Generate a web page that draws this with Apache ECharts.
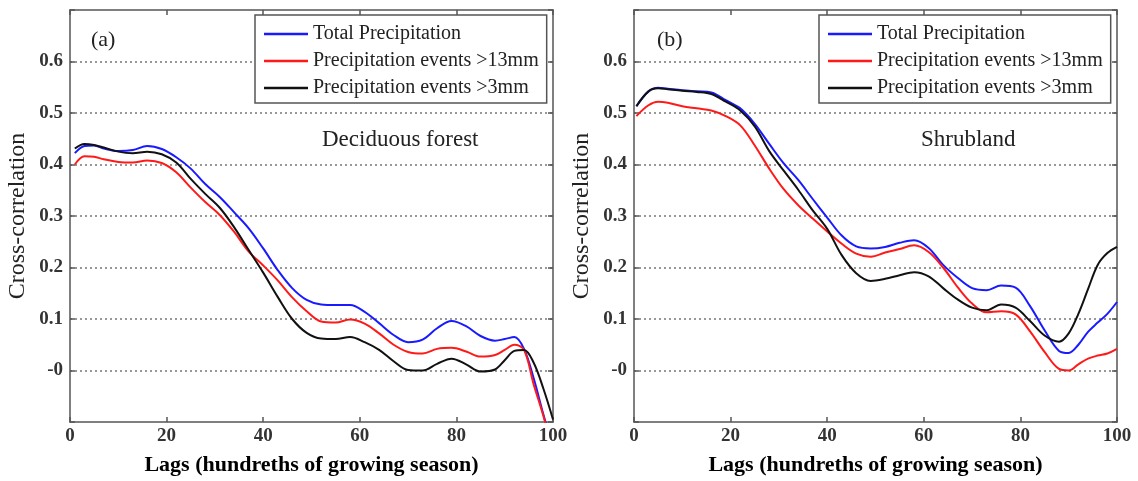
<!DOCTYPE html>
<html>
<head>
<meta charset="utf-8">
<script src="https://cdn.jsdelivr.net/npm/echarts@6/dist/echarts.min.js"></script>
<style>html,body{margin:0;padding:0;background:#fff;}#c{width:1138px;height:481px;}</style>
</head>
<body>
<div id="c"></div>
<script>
// ---- Data ----
const seriesNames = ['Total Precipitation', 'Precipitation events >13mm', 'Precipitation events >3mm'];
const xTicks = [0, 20, 40, 60, 80, 100];

// Panel (a) Deciduous forest
const lagsA = [1,3,5,7,10,13,16,19,22,25,28,31,34,37,40,43,46,49,52,55,58,61,64,67,70,73,76,79,82,85,88,90,92,94,96,98,100];
const totalA = [0.422,0.436,0.437,0.431,0.426,0.428,0.436,0.430,0.414,0.392,0.362,0.337,0.307,0.276,0.237,0.195,0.160,0.137,0.128,0.127,0.127,0.114,0.092,0.069,0.055,0.060,0.082,0.096,0.086,0.067,0.058,0.061,0.065,0.042,-0.015,-0.085,-0.150];
const p13A  = [0.400,0.416,0.415,0.410,0.405,0.404,0.408,0.403,0.385,0.355,0.327,0.302,0.269,0.231,0.204,0.175,0.142,0.115,0.095,0.093,0.099,0.091,0.072,0.050,0.036,0.033,0.042,0.044,0.037,0.027,0.030,0.040,0.050,0.040,-0.027,-0.088,-0.160];
const p3A   = [0.431,0.440,0.438,0.433,0.425,0.422,0.425,0.420,0.404,0.372,0.343,0.316,0.278,0.234,0.190,0.143,0.100,0.073,0.062,0.061,0.065,0.055,0.040,0.018,0.001,0.000,0.013,0.023,0.012,-0.002,0.002,0.020,0.038,0.040,0.015,-0.035,-0.095];

// Panel (b) Shrubland
const lagsB = [0.5,3,5,7,10,13,16,19,22,25,28,31,34,37,40,43,46,49,52,55,58,61,64,67,70,73,76,79,82,85,88,90,92,94,96,98,100];
const totalB = [0.513,0.542,0.549,0.547,0.544,0.542,0.540,0.525,0.509,0.479,0.440,0.402,0.370,0.333,0.297,0.262,0.241,0.237,0.240,0.248,0.253,0.238,0.205,0.180,0.160,0.156,0.165,0.161,0.125,0.078,0.038,0.034,0.050,0.075,0.093,0.110,0.133];
const p13B  = [0.494,0.515,0.522,0.520,0.513,0.509,0.505,0.494,0.476,0.437,0.392,0.352,0.321,0.295,0.270,0.246,0.227,0.221,0.229,0.236,0.243,0.230,0.200,0.162,0.130,0.113,0.115,0.109,0.076,0.036,0.003,0.000,0.012,0.023,0.029,0.033,0.042];
const p3B   = [0.513,0.542,0.548,0.546,0.543,0.541,0.537,0.522,0.505,0.474,0.426,0.388,0.351,0.311,0.275,0.224,0.189,0.174,0.178,0.185,0.191,0.183,0.160,0.138,0.122,0.117,0.128,0.122,0.096,0.068,0.056,0.072,0.110,0.158,0.205,0.228,0.240];

// ---- Chart ----
const FONT = '"Liberation Serif", "DejaVu Serif", serif';
const colors = ['#1a1aff', '#ff1a1a', '#111111'];
const chart = echarts.init(document.getElementById('c'));

function pairs(x, y) { return x.map((v, i) => [v, y[i]]); }

const grids = [
  { left: 70, right: 585, top: 10, height: 415 },
  { left: 634, right: 21, top: 10, height: 415 }
];

const axisLineStyle = { color: '#555', width: 1.5 };

function mainX(g) {
  return {
    type: 'value', gridIndex: g, min: 0, max: 100, interval: 20,
    name: 'Lags (hundreths of growing season)', nameLocation: 'middle', nameGap: 32,
    nameTextStyle: { fontFamily: FONT, fontSize: 22, fontWeight: 'bold', color: '#000' },
    axisLine: { show: true, onZero: false, lineStyle: axisLineStyle },
    axisTick: { show: true, inside: true, length: 5, lineStyle: axisLineStyle },
    axisLabel: { fontFamily: FONT, fontSize: 19, fontWeight: 'bold', color: '#333', margin: 5,
      formatter: v => xTicks.includes(v) ? String(v) : '' },
    splitLine: { show: false }
  };
}
function topX(g) {
  return {
    type: 'value', gridIndex: g, position: 'top', min: 0, max: 100, interval: 20,
    axisLine: { show: true, onZero: false, lineStyle: axisLineStyle },
    axisTick: { show: true, inside: true, length: 5, lineStyle: axisLineStyle },
    axisLabel: { show: false }, splitLine: { show: false }
  };
}
function mainY(g) {
  return {
    type: 'value', gridIndex: g, min: -0.1, max: 0.7, interval: 0.1,
    name: 'Cross-correlation', nameLocation: 'middle', nameGap: 40,
    nameTextStyle: { fontFamily: FONT, fontSize: 24, color: '#222' },
    axisLine: { show: true, onZero: false, lineStyle: axisLineStyle },
    axisTick: { show: true, inside: true, length: 5, lineStyle: axisLineStyle },
    axisLabel: { fontFamily: FONT, fontSize: 19, fontWeight: 'bold', color: '#333', margin: 7,
      formatter: v => {
        const r = Math.round(v * 10) / 10;
        if (r < -0.05 || r > 0.65) return '';
        if (Math.abs(r) < 1e-9) return '-0';
        return r.toFixed(1);
      } },
    splitLine: { show: true, showMinLine: false, showMaxLine: false,
      lineStyle: { type: [2, 3], color: '#777', width: 1.5 } }
  };
}
function rightY(g) {
  return {
    type: 'value', gridIndex: g, position: 'right', min: -0.1, max: 0.7, interval: 0.1,
    axisLine: { show: true, onZero: false, lineStyle: axisLineStyle },
    axisTick: { show: true, inside: true, length: 5, lineStyle: axisLineStyle },
    axisLabel: { show: false }, splitLine: { show: false }
  };
}

function mkSeries(name, data, color, xi, yi) {
  return {
    type: 'line', name, data, xAxisIndex: xi, yAxisIndex: yi,
    symbol: 'none', smooth: 0.35, clip: true,
    lineStyle: { color, width: 2 }, itemStyle: { color }
  };
}

function mkLegend(left) {
  return {
    orient: 'vertical', left, top: 15,
    data: seriesNames.map(n => ({ name: n, icon: 'rect' })),
    itemWidth: 44, itemHeight: 2.5, itemGap: 7,
    padding: [9, 8, 5, 9],
    backgroundColor: '#fff', borderColor: '#555', borderWidth: 1.5, borderRadius: 0,
    textStyle: { fontFamily: FONT, fontSize: 20, color: '#222', lineHeight: 20 },
    selectedMode: false
  };
}

chart.setOption({
  animation: false,
  grid: grids,
  xAxis: [mainX(0), mainX(1), topX(0), topX(1)],
  yAxis: [mainY(0), mainY(1), rightY(0), rightY(1)],
  legend: [mkLegend(255), mkLegend(819)],
  series: [
    mkSeries(seriesNames[0], pairs(lagsA, totalA), colors[0], 0, 0),
    mkSeries(seriesNames[1], pairs(lagsA, p13A), colors[1], 0, 0),
    mkSeries(seriesNames[2], pairs(lagsA, p3A), colors[2], 0, 0),
    mkSeries(seriesNames[0], pairs(lagsB, totalB), colors[0], 1, 1),
    mkSeries(seriesNames[1], pairs(lagsB, p13B), colors[1], 1, 1),
    mkSeries(seriesNames[2], pairs(lagsB, p3B), colors[2], 1, 1)
  ],
  graphic: [
    { type: 'text', left: 91, top: 29, style: { text: '(a)', font: '22px ' + FONT, fill: '#222' } },
    { type: 'text', left: 322, top: 128, style: { text: 'Deciduous forest', font: '23px ' + FONT, fill: '#222' } },
    { type: 'text', left: 657, top: 29, style: { text: '(b)', font: '22px ' + FONT, fill: '#222' } },
    { type: 'text', left: 921, top: 128, style: { text: 'Shrubland', font: '23px ' + FONT, fill: '#222' } }
  ]
});
</script>
</body>
</html>
